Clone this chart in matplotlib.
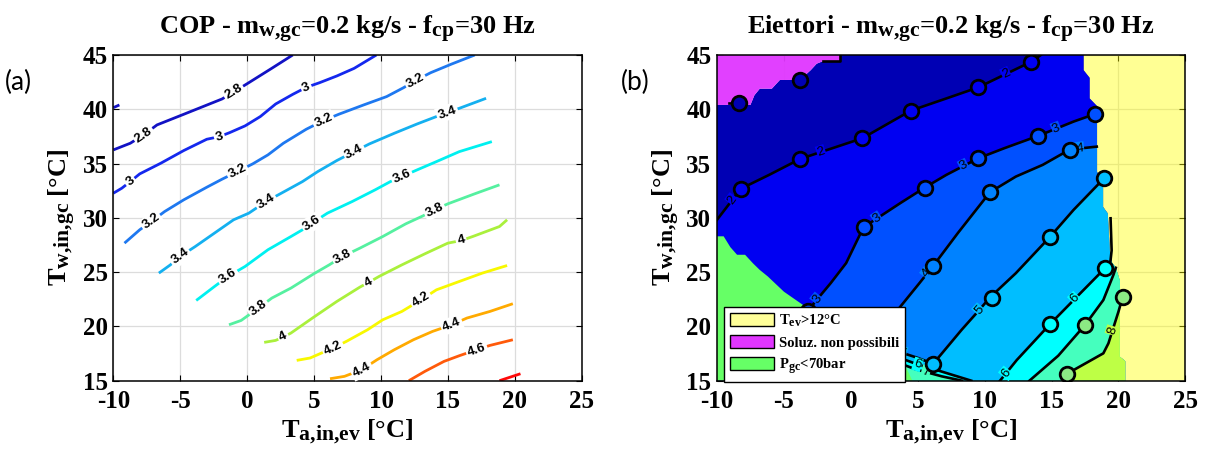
import numpy as np
import matplotlib
matplotlib.use('Agg')
import matplotlib.pyplot as plt
import matplotlib._mathtext as mathtext_mod
from matplotlib.patches import Polygon, Patch

plt.rcParams['font.family'] = 'Liberation Serif'
plt.rcParams['font.weight'] = 'bold'
plt.rcParams['axes.labelweight'] = 'bold'
plt.rcParams['axes.titleweight'] = 'bold'
plt.rcParams['mathtext.fontset'] = 'custom'
plt.rcParams['mathtext.rm'] = 'Liberation Serif:bold'
plt.rcParams['mathtext.it'] = 'Liberation Serif:bold'
plt.rcParams['mathtext.bf'] = 'Liberation Serif:bold'
plt.rcParams['axes.unicode_minus'] = False
# larger subscripts, closer to TeX-style labels of the original figure
mathtext_mod.SHRINK_FACTOR = 0.82

# ---- COP iso-lines (panel a) ----
cop_levels = [2.8, 2.8, 3.0, 3.2, 3.4, 3.6, 3.8, 4.0, 4.2, 4.4, 4.6, 4.8]
cop_x = [
    [-10, -8.74, -7.74, -6.74, -4.74, -1.88, -1.0, 0.12, 1.83, 3.4],
    [-10, -9.55],
    [-10, -9.37, -8.74, -8.03, -6.46, -4.74, -3.02, -2.08, -1.31, -0.16, 0.98, 2.13, 3.41, 4.41, 5.41, 6.7, 7.99, 9.65],
    [-9.17, -8.03, -7.17, -6.17, -4.74, -3.02, -1.88, -0.73, 0.41, 1.55, 2.7, 4.41, 5.7, 6.84, 8.7, 10.42, 11.7, 12.56, 13.71, 15.28, 17.0],
    [-6.6, -5.74, -5.02, -3.88, -2.45, -1.02, 0.12, 1.4, 2.55, 4.13, 5.27, 6.7, 7.99, 9.13, 10.99, 12.7, 14.14, 14.94, 15.85, 17.85],
    [-3.81, -2.44, -1.44, -0.16, 1.55, 3.27, 4.13, 4.84, 5.99, 7.84, 9.56, 10.7, 11.56, 12.7, 14.14, 15.85, 18.28],
    [-1.36, -0.45, 0.84, 1.84, 3.27, 4.98, 6.13, 7.13, 8.42, 10.13, 11.85, 13.13, 13.99, 14.99, 16.99, 18.85],
    [1.27, 2.12, 2.7, 3.27, 4.98, 6.7, 8.42, 9.07, 9.85, 11.56, 13.28, 14.99, 15.99, 16.85, 17.85, 18.85, 19.42],
    [3.7, 4.7, 5.56, 6.41, 7.41, 8.99, 10.13, 11.56, 12.99, 14.14, 15.85, 17.57, 19.42],
    [6.19, 7.27, 8.56, 9.7, 10.99, 12.42, 13.85, 15.28, 16.42, 18.14, 19.85],
    [12.08, 13.28, 14.71, 15.85, 17.14, 18.14, 19.85],
    [18.85, 20.42],
]
cop_y = [
    [36.26, 36.87, 37.64, 38.56, 39.54, 40.95, 41.6, 42.45, 43.77, 45.0],
    [40.15, 40.4],
    [32.27, 32.73, 33.34, 34.05, 35.03, 36.2, 37.24, 37.48, 37.85, 38.47, 39.33, 40.49, 41.38, 42.02, 42.45, 43.07, 43.77, 45.0],
    [27.67, 28.9, 29.66, 30.58, 31.66, 32.82, 33.56, 34.26, 34.97, 35.8, 36.87, 38.16, 38.96, 39.54, 40.4, 41.17, 42.0, 42.64, 43.37, 44.17, 45.0],
    [24.91, 25.67, 26.44, 27.36, 28.59, 29.82, 30.43, 31.5, 32.27, 33.34, 34.26, 35.28, 36.1, 36.81, 37.79, 38.65, 39.33, 39.69, 40.09, 41.01],
    [22.39, 23.68, 24.6, 25.52, 27.06, 28.28, 28.9, 29.51, 30.43, 31.5, 32.58, 33.34, 33.8, 34.42, 35.18, 36.1, 37.02],
    [20.15, 20.55, 21.69, 22.61, 23.53, 24.85, 25.67, 26.44, 27.21, 28.28, 29.45, 30.18, 30.74, 31.29, 32.21, 33.04],
    [18.53, 18.71, 19.02, 19.39, 20.86, 22.3, 23.62, 24.05, 24.6, 25.67, 26.69, 27.67, 27.91, 28.28, 28.74, 29.2, 29.82],
    [16.87, 17.09, 17.55, 18.0, 18.62, 19.69, 20.61, 21.38, 22.45, 23.37, 24.14, 24.91, 25.61],
    [15.18, 15.4, 16.01, 16.93, 17.85, 18.77, 19.54, 20.15, 20.77, 21.38, 22.09],
    [15.0, 15.86, 16.78, 17.3, 17.85, 18.25, 18.77],
    [15.0, 15.64],
]
cop_lab_level = [2.8, 2.8, 3.0, 3.0, 3.0, 3.2, 3.2, 3.2, 3.2, 3.4, 3.4, 3.4, 3.4,
                 3.6, 3.6, 3.6, 3.8, 3.8, 3.8, 4.0, 4.0, 4.0, 4.2, 4.2, 4.4, 4.4, 4.6]
cop_lab_x = [-7.74, -1.0, -8.74, -2.08, 4.41, -7.17, -0.73, 5.7, 12.56, -5.02, 1.4, 7.99, 14.94,
             -1.44, 4.84, 11.56, 0.84, 7.13, 13.99, 2.7, 9.07, 15.99, 6.41, 12.99, 8.56, 15.28, 17.14]
cop_lab_y = [37.64, 41.6, 33.34, 37.48, 42.02, 29.66, 34.26, 38.96, 42.64, 26.44, 31.5, 36.1, 39.69,
             24.6, 29.51, 33.8, 21.69, 26.44, 30.74, 19.02, 24.05, 27.91, 18.0, 22.45, 16.01, 20.15, 17.85]

# ---- ejector map (panel b) ----
ej_levels = [1, 1, 2, 3, 4, 5, 6, 6, 7, 7, 8]
ej_x = [
    [-9.1, -8.36],
    [-2.1, -0.8, -0.8],
    [-10, -8.85, -8.24, -6.1, -3.78, -2.22, 0.86, 4.49, 7.14, 9.53, 11.6, 13.5, 14.2],
    [-5.0, -4.2, -3.23, -2.51, -1.5, -0.35, 0.95, 1.96, 3.69, 5.53, 7.14, 8.44, 9.53, 11.46, 14.0, 15.35, 16.65, 18.26],
    [-1.0, 1.0, 3.11, 5.13, 5.7, 6.16, 8.0, 10.4, 12.33, 14.34, 16.36, 17.1, 18.38],
    [1.0, 3.0, 3.83, 5.0, 6.16, 8.29, 9.59, 10.4, 12.33, 14.85, 16.65, 18.93],
    [2.0, 4.0, 4.98, 6.5, 9.0],
    [11.15, 11.6, 12.4, 14.88, 16.75, 19.0, 19.4, 19.49, 19.41],
    [3.0, 4.84, 5.6, 6.8, 8.3],
    [13.35, 15.5, 17.5, 18.87, 19.62, 19.8],
    [15.9, 16.14, 16.88, 18.87, 19.25, 19.55, 20.0, 20.32],
]
ej_y = [
    [40.55, 40.55],
    [44.45, 44.45, 45.0],
    [29.82, 31.66, 32.67, 33.96, 35.43, 36.07, 37.33, 39.88, 41.0, 42.02, 43.26, 44.39, 45.0],
    [15.0, 19.0, 21.38, 22.5, 23.99, 25.83, 29.14, 29.95, 31.35, 32.79, 33.96, 34.79, 35.49, 36.41, 37.55, 38.22, 38.87, 39.57],
    [15.0, 18.0, 20.92, 23.99, 24.87, 25.58, 28.6, 32.36, 33.8, 34.88, 36.29, 36.39, 36.56],
    [19.2, 17.9, 17.57, 17.1, 16.56, 19.7, 21.5, 22.67, 24.9, 28.2, 30.74, 33.65],
    [17.6, 16.95, 16.5, 15.95, 15.0],
    [15.0, 15.68, 16.9, 20.2, 22.55, 25.37, 26.0, 27.0, 29.96],
    [16.9, 16.05, 15.8, 15.4, 15.0],
    [15.0, 17.3, 20.13, 22.43, 24.74, 25.4],
    [15.0, 15.62, 16.14, 17.52, 18.44, 19.61, 21.36, 22.74],
]
ej_lab_level = [2, 2, 2, 3, 3, 3, 3, 4, 4, 5, 5, 6, 6, 6, 7, 8]
ej_lab_x = [-8.85, -2.22, 11.6, -2.51, 1.96, 8.44, 15.35, 5.7, 17.1, 9.59, 3.83, 16.75, 11.6, 4.98, 5.6, 19.55]
ej_lab_y = [31.66, 36.07, 43.26, 22.5, 29.95, 34.79, 38.22, 24.87, 36.39, 21.5, 17.57, 22.55, 15.68, 16.5, 15.8, 19.61]

ej_pt_level = [1, 1, 2, 2, 2, 2, 2, 2, 3, 3, 3, 3, 3, 3, 4, 4, 4, 5, 5, 5, 5, 6, 6, 7, 8, 8]
ej_pt_x = [-8.36, -3.78, -8.24, -3.78, 0.86, 4.49, 9.53, 13.5, -3.23, 0.95, 5.53, 9.53, 14.0, 18.26,
           6.16, 10.4, 16.36, 6.16, 10.53, 14.85, 18.93, 14.88, 19.0, 17.5, 16.14, 20.32]
ej_pt_y = [40.55, 42.7, 32.67, 35.43, 37.33, 39.88, 42.02, 44.39, 21.38, 29.14, 32.79, 35.49, 37.55, 39.57,
           25.58, 32.36, 36.29, 16.56, 22.6, 28.2, 33.65, 20.2, 25.37, 20.13, 15.62, 22.74]

# region limits
tev_x = [17.4, 17.4, 17.85, 17.85, 18.4, 18.4, 18.85, 18.85, 19.2, 19.35, 19.5, 19.8, 20.1, 20.1, 20.5, 20.5]
tev_y = [45.0, 43.6, 42.9, 41.0, 40.3, 34.2, 33.7, 31.0, 30.4, 27.0, 25.9, 25.4, 24.2, 17.2, 16.8, 15.0]
nosol_x = [-10, -7.5, -7.2, -6.8, -5.9, -5.3, -3.8, -3.0, -2.55, -2.15, -0.8, -0.8]
nosol_y = [40.4, 40.4, 41.3, 41.9, 41.9, 42.7, 42.7, 43.6, 44.2, 44.4, 44.4, 45.0]
pgc_x = [-10, -9.5, -9.0, -8.5, -7.9, -7.3, -6.8, -6.2, -5.6, -5.0, -4.3, -3.6, -3.0, -2.0, 1.0, 3.6, 4.6, -10]
pgc_y = [28.3, 28.3, 27.3, 26.6, 26.6, 25.8, 25.2, 24.6, 23.9, 23.2, 22.6, 22.0, 21.4, 20.6, 19.0, 17.6, 15.0, 15.0]

cop_colors = {2.8: '#1212C4', 3.0: '#1428EE', 3.2: '#1E78F0', 3.4: '#14B0F0', 3.6: '#00F0F0',
              3.8: '#55F0A0', 4.0: '#AAF03C', 4.2: '#F8F800', 4.4: '#FFAA00', 4.6: '#FF5A0A', 4.8: '#FF0A0A'}
ej_fill = ['#0000B4', '#0000F2', '#0050FF', '#0082FF', '#00BEFF', '#00FFFF', '#45FFBE', '#BEFF45']


def rot_at(ax, xs, ys, x0, y0):
    pts = ax.transData.transform(np.column_stack([xs, ys]))
    p = ax.transData.transform((x0, y0))
    i = int(np.argmin(np.hypot(pts[:, 0] - p[0], pts[:, 1] - p[1])))
    a = pts[max(i - 1, 0)]
    b = pts[min(i + 1, len(pts) - 1)]
    ang = np.degrees(np.arctan2(b[1] - a[1], b[0] - a[0]))
    if ang > 90:
        ang -= 180
    if ang < -90:
        ang += 180
    return ang


def nearest_line(levels, xs, ys, lev, x0, y0):
    best = None
    for k, L in enumerate(levels):
        if L != lev:
            continue
        d = np.min(np.hypot(np.array(xs[k]) - x0, np.array(ys[k]) - y0))
        if best is None or d < best[0]:
            best = (d, k)
    return best[1]


def style_axes(ax, title):
    ax.set_xlim(-10, 25)
    ax.set_ylim(15, 45)
    ax.set_xticks(np.arange(-10, 26, 5))
    ax.set_yticks(np.arange(15, 46, 5))
    ax.tick_params(direction='in', length=4, width=0.8, top=True, right=True, labelsize=18)
    ax.tick_params(axis='x', pad=7)
    ax.tick_params(axis='y', pad=4)
    ax.grid(True, color='#dcdcdc', lw=0.9)
    ax.set_axisbelow(True)
    for s in ax.spines.values():
        s.set_linewidth(1.1)
    ax.set_title(title, fontsize=19, fontweight='bold', pad=15)
    ax.set_xlabel(r'T$_{\mathrm{a{,}in{,}ev}}$ [°C]', fontsize=19, va='top')
    ax.set_ylabel(r'T$_{\mathrm{w{,}in{,}gc}}$ [°C]', fontsize=19)
    ax.xaxis.set_label_coords(0.5, -0.115)
    ax.yaxis.set_label_coords(-0.075, 0.5)


fig = plt.figure(figsize=(12.06, 4.58), dpi=100)
ax1 = fig.add_axes([0.0940, 0.1688, 0.3884, 0.7111])
ax2 = fig.add_axes([0.5945, 0.1688, 0.3884, 0.7111])

# panel a
style_axes(ax1, r'COP - m$_{\mathrm{w{,}gc}}$=0.2 kg/s - f$_{\mathrm{cp}}$=30 Hz')
for lev, xs, ys in zip(cop_levels, cop_x, cop_y):
    ax1.plot(xs, ys, color=cop_colors[lev], lw=2.0, solid_capstyle='butt', zorder=2)
for lev, lx, ly in zip(cop_lab_level, cop_lab_x, cop_lab_y):
    k = nearest_line(cop_levels, cop_x, cop_y, lev, lx, ly)
    ang = rot_at(ax1, cop_x[k], cop_y[k], lx, ly)
    ax1.text(lx, ly, '%g' % lev, rotation=ang, rotation_mode='anchor', ha='center', va='center',
             fontsize=9.5, fontweight='bold', family='Liberation Sans', color='black',
             bbox=dict(fc='white', ec='none', pad=1.2), zorder=3)

# panel b
style_axes(ax2, r'Eiettori - m$_{\mathrm{w{,}gc}}$=0.2 kg/s - f$_{\mathrm{cp}}$=30 Hz')
valid = Polygon(np.column_stack([[-10] + nosol_x + [17.4] + tev_x, [15] + nosol_y + [45] + tev_y]),
                closed=True, transform=ax2.transData)

base = ax2.fill([-10, 25, 25, -10], [15, 15, 45, 45], color=ej_fill[0], lw=0, zorder=1)
base[0].set_clip_path(valid)
for lev in range(2, 9):
    for L, xs, ys in zip(ej_levels, ej_x, ej_y):
        if L != lev:
            continue
        px = list(xs) + [30, 30, xs[0]]
        py = list(ys) + [ys[-1], 10, 10]
        p = ax2.fill(px, py, color=ej_fill[lev - 1], lw=0, zorder=1)
        p[0].set_clip_path(valid)

ax2.fill(list(tev_x) + [25, 25], list(tev_y) + [15, 45], color='#FFFF00', alpha=0.42, lw=0, zorder=1)
ax2.fill(list(nosol_x) + [-10], list(nosol_y) + [45], color='#E036FF', alpha=0.95, lw=0, zorder=1)
ax2.fill(pgc_x, pgc_y, color='#66FF66', lw=0, zorder=2)

for xs, ys in zip(ej_x, ej_y):
    ax2.plot(xs, ys, color='black', lw=1.9, zorder=3)
for lev, lx, ly in zip(ej_lab_level, ej_lab_x, ej_lab_y):
    k = nearest_line(ej_levels, ej_x, ej_y, lev, lx, ly)
    ang = rot_at(ax2, ej_x[k], ej_y[k], lx, ly)
    ax2.text(lx, ly, '%d' % lev, rotation=ang, rotation_mode='anchor', ha='center', va='center',
             fontsize=9.5, fontweight='normal', family='Liberation Sans', color='black',
             bbox=dict(fc=ej_fill[lev - 1], ec='none', pad=0.6), zorder=3.2)
for lev, px, py in zip(ej_pt_level, ej_pt_x, ej_pt_y):
    face = ej_fill[lev - 1] if lev < 7 else '#8CEA84'
    ax2.plot(px, py, 'o', ms=10.5, mfc=face, mec='black', mew=2.0, zorder=3.5)

handles = [Patch(fc='#FFFF99', ec='black', lw=1.0),
           Patch(fc='#E036FF', ec='black', lw=1.0),
           Patch(fc='#66FF66', ec='black', lw=1.0)]
labels = [r'T$_{\mathrm{ev}}$>12°C', 'Soluz. non possibili', r'P$_{\mathrm{gc}}$<70bar']
leg = ax2.legend(handles, labels, loc='lower left', bbox_to_anchor=(0.015, -0.003), borderaxespad=0,
                 fancybox=False, edgecolor='black', framealpha=1,
                 prop={'family': 'Liberation Serif', 'weight': 'bold', 'size': 10.5},
                 handlelength=3.0, handleheight=0.95, labelspacing=0.45, handletextpad=0.35, borderpad=0.4)
leg.get_frame().set_linewidth(1.0)
leg.set_zorder(6)

fig.text(0.004, 0.821, '(a)', family='Lato', fontweight='normal', fontsize=19, va='center')
fig.text(0.515, 0.821, '(b)', family='Lato', fontweight='normal', fontsize=19, va='center')

fig.savefig('out.png', dpi=100)
